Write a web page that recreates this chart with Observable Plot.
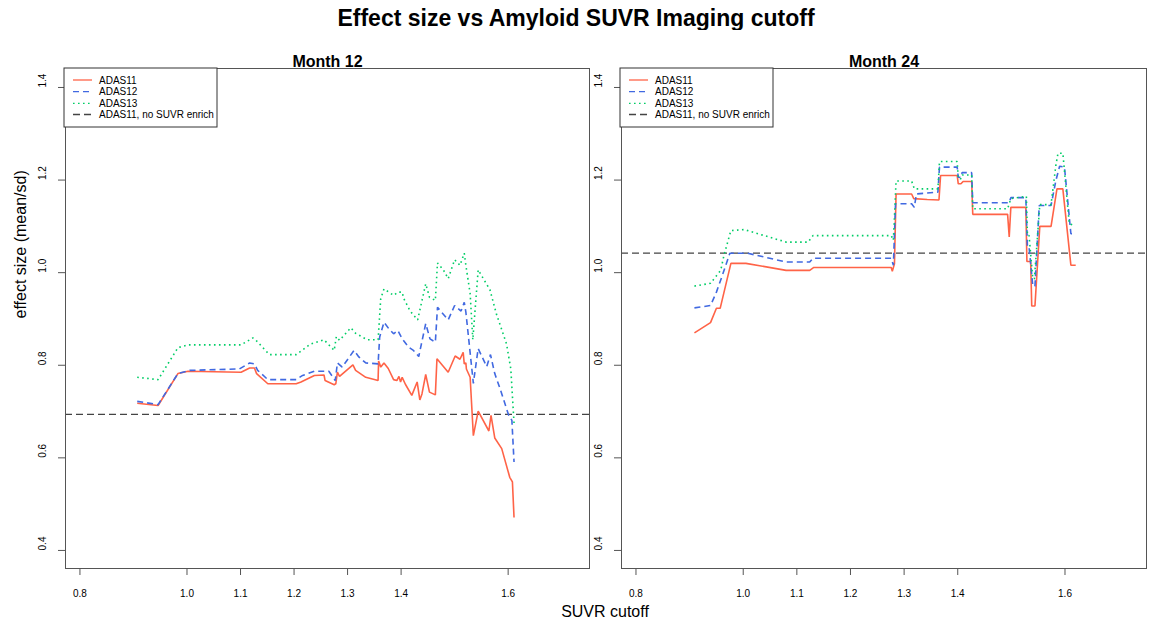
<!DOCTYPE html>
<html>
<head>
<meta charset="utf-8">
<script src="https://cdn.jsdelivr.net/npm/d3@7"></script>
<script src="https://cdn.jsdelivr.net/npm/@observablehq/plot@0.6"></script>
<style>
  html, body { margin: 0; padding: 0; background: #fff; }
  #wrap { position: relative; width: 1152px; height: 631px; font-family: "Liberation Sans", Arial, sans-serif; color: #000; }
  #title { position: absolute; left: 0; width: 1152px; top: 5px; text-align: center; font-weight: bold; font-size: 23px; }
  #xlabel { position: absolute; left: 0; width: 1210px; top: 603px; text-align: center; font-size: 16px; }
  .panel { position: absolute; top: 30px; }
</style>
</head>
<body>
<div id="wrap">
  <div id="title">Effect size vs Amyloid SUVR Imaging cutoff</div>
  <div id="left" class="panel" style="left:0px"></div>
  <div id="right" class="panel" style="left:592px"></div>
  <div id="xlabel">SUVR cutoff</div>
</div>
<script>
// ---------- data ----------
const panelTitles = ["Month 12", "Month 24"];
const seriesNames = ["ADAS11", "ADAS12", "ADAS13"];
const legendLabels = ["ADAS11", "ADAS12", "ADAS13", "ADAS11, no SUVR enrich"];
const xTicks = [0.8, 1.0, 1.1, 1.2, 1.3, 1.4, 1.6];
const yTicks = [0.4, 0.6, 0.8, 1.0, 1.2, 1.4];
const baselineEffect = [0.694, 1.042]; // ADAS11, no SUVR enrich (Month 12, Month 24)

// Month 12
const m12_adas11_x = [0.907,0.946,0.983,1.002,1.101,1.117,1.126,1.130,1.151,1.204,1.213,1.238,1.256,1.258,1.275,1.278,1.281,1.285,1.310,1.315,1.334,1.357,1.358,1.362,1.368,1.376,1.386,1.392,1.396,1.399,1.402,1.408,1.420,1.430,1.435,1.439,1.446,1.453,1.464,1.467,1.488,1.501,1.510,1.516,1.518,1.521,1.522,1.529,1.535,1.544,1.564,1.568,1.575,1.588,1.603,1.608,1.611];
const m12_adas11_y = [0.718,0.713,0.782,0.787,0.785,0.794,0.794,0.782,0.760,0.760,0.764,0.778,0.779,0.767,0.758,0.760,0.785,0.776,0.801,0.789,0.774,0.767,0.809,0.796,0.805,0.793,0.769,0.767,0.776,0.764,0.774,0.759,0.735,0.764,0.725,0.738,0.780,0.742,0.736,0.814,0.785,0.820,0.813,0.828,0.803,0.805,0.792,0.774,0.648,0.701,0.658,0.692,0.643,0.620,0.558,0.548,0.471];
const m12_adas12_x = [0.907,0.946,0.983,1.005,1.098,1.117,1.126,1.132,1.151,1.204,1.216,1.238,1.265,1.277,1.281,1.290,1.312,1.321,1.334,1.357,1.360,1.368,1.377,1.386,1.394,1.402,1.414,1.423,1.433,1.446,1.454,1.464,1.468,1.488,1.500,1.512,1.518,1.521,1.535,1.544,1.560,1.567,1.575,1.585,1.601,1.607,1.611];
const m12_adas12_y = [0.722,0.715,0.782,0.789,0.792,0.805,0.803,0.789,0.769,0.769,0.778,0.787,0.787,0.767,0.805,0.796,0.832,0.818,0.805,0.803,0.861,0.893,0.879,0.868,0.875,0.857,0.839,0.832,0.819,0.890,0.857,0.850,0.925,0.898,0.929,0.917,0.936,0.915,0.761,0.836,0.797,0.823,0.782,0.749,0.692,0.681,0.591];
const m12_adas13_x = [0.907,0.946,0.983,1.002,1.101,1.123,1.128,1.154,1.204,1.231,1.256,1.275,1.279,1.285,1.306,1.315,1.337,1.357,1.362,1.368,1.377,1.386,1.394,1.402,1.405,1.417,1.431,1.446,1.453,1.464,1.468,1.479,1.488,1.500,1.510,1.518,1.521,1.529,1.534,1.544,1.566,1.578,1.597,1.605,1.611];
const m12_adas13_y = [0.774,0.769,0.838,0.844,0.844,0.859,0.855,0.823,0.823,0.846,0.855,0.832,0.862,0.854,0.881,0.869,0.855,0.855,0.944,0.965,0.958,0.951,0.958,0.958,0.944,0.917,0.898,0.976,0.947,0.940,1.021,1.006,0.987,1.028,1.016,1.042,1.016,0.955,0.855,1.006,0.963,0.911,0.846,0.792,0.675];

// Month 24
const m24_adas11_x = [0.909,0.939,0.950,0.957,0.977,1.005,1.080,1.124,1.131,1.276,1.278,1.282,1.285,1.314,1.318,1.343,1.365,1.368,1.399,1.401,1.406,1.410,1.426,1.428,1.493,1.496,1.499,1.527,1.529,1.536,1.538,1.544,1.553,1.574,1.585,1.596,1.611,1.620];
const m24_adas11_y = [0.870,0.892,0.923,0.923,1.020,1.020,1.005,1.005,1.011,1.011,1.003,1.019,1.170,1.170,1.160,1.158,1.157,1.210,1.210,1.192,1.192,1.197,1.197,1.126,1.126,1.077,1.141,1.141,1.024,1.024,0.928,0.928,1.100,1.100,1.181,1.181,1.016,1.016];
const m24_adas12_x = [0.909,0.939,0.950,0.961,0.975,1.008,1.080,1.124,1.130,1.276,1.280,1.284,1.314,1.319,1.323,1.363,1.366,1.399,1.401,1.406,1.408,1.426,1.428,1.496,1.499,1.527,1.530,1.533,1.540,1.544,1.552,1.574,1.583,1.590,1.599,1.611,1.618];
const m24_adas12_y = [0.924,0.929,0.958,0.994,1.042,1.042,1.023,1.023,1.031,1.031,1.016,1.149,1.149,1.141,1.170,1.174,1.228,1.228,1.206,1.206,1.216,1.216,1.151,1.151,1.162,1.162,1.055,1.055,0.971,0.971,1.145,1.145,1.199,1.230,1.228,1.084,1.084];
const m24_adas13_x = [0.909,0.939,0.958,0.964,0.977,1.002,1.080,1.121,1.130,1.276,1.280,1.285,1.314,1.319,1.363,1.366,1.399,1.401,1.406,1.408,1.426,1.428,1.493,1.499,1.528,1.530,1.533,1.540,1.543,1.553,1.574,1.583,1.587,1.596,1.608,1.616];
const m24_adas13_y = [0.971,0.977,1.005,1.037,1.091,1.093,1.066,1.066,1.080,1.080,1.070,1.198,1.198,1.181,1.181,1.240,1.240,1.203,1.203,1.211,1.211,1.138,1.138,1.160,1.165,1.080,1.080,0.987,0.987,1.147,1.147,1.232,1.258,1.258,1.106,1.102];

// ---------- styles ----------
const seriesStyle = {
  ADAS11: {stroke: "#FF6347", dash: null},
  ADAS12: {stroke: "#4169E1", dash: "6 4"},
  ADAS13: {stroke: "#00CD66", dash: "1.6 3.4"}
};
const baseStyle = {stroke: "#444", dash: "7 4"};

const panels = [
  {el: "#left", title: panelTitles[0], width: 592, ml: 65, mr: 3, yLabel: true,
   series: [[m12_adas11_x, m12_adas11_y], [m12_adas12_x, m12_adas12_y], [m12_adas13_x, m12_adas13_y]], base: baselineEffect[0]},
  {el: "#right", title: panelTitles[1], width: 560, ml: 29, mr: 6, yLabel: false,
   series: [[m24_adas11_x, m24_adas11_y], [m24_adas12_x, m24_adas12_y], [m24_adas13_x, m24_adas13_y]], base: baselineEffect[1]}
];

const H = 575, MT = 38, MB = 37;

for (const p of panels) {
  const marks = [];
  marks.push(Plot.ruleY([p.base], {stroke: baseStyle.stroke, strokeWidth: 1.3, strokeDasharray: baseStyle.dash}));
  seriesNames.forEach((name, i) => {
    const [xs, ys] = p.series[i];
    const rows = xs.map((x, j) => ({x, y: ys[j], series: name}));
    const st = seriesStyle[name];
    marks.push(Plot.line(rows, {x: "x", y: "y", stroke: st.stroke, strokeWidth: 1.6,
      strokeDasharray: st.dash || undefined, strokeLinejoin: "miter", strokeLinecap: "butt"}));
  });
  marks.push(Plot.frame({stroke: "#555", strokeWidth: 1}));
  marks.push(Plot.axisX({ticks: xTicks, tickSize: 7, tickPadding: 14, tickFormat: d3.format(".1f"), stroke: "#555", fontSize: 10, label: null}));
  marks.push(Plot.axisY({ticks: yTicks, tickSize: 7, tickFormat: () => "", stroke: "#555", label: null}));
  marks.push(Plot.text(yTicks, {y: d => d, frameAnchor: "left", dx: -23, rotate: -90, text: d => d3.format(".1f")(d), fontSize: 10, fill: "#000"}));
  marks.push(Plot.text([p.title], {frameAnchor: "top", dy: -13, fontSize: 16, fontWeight: "bold", fill: "#000"}));
  if (p.yLabel) {
    marks.push(Plot.text(["effect size (mean/sd)"], {frameAnchor: "left", dx: -45, rotate: -90, fontSize: 16, fill: "#000"}));
  }
  const chart = Plot.plot({
    width: p.width, height: H,
    marginTop: MT, marginBottom: MB, marginLeft: p.ml, marginRight: p.mr,
    x: {domain: [0.773, 1.752]},
    y: {domain: [0.361, 1.441]},
    style: {fontFamily: "'Liberation Sans', Arial, sans-serif", fontSize: "10px", background: "white", overflow: "visible"},
    marks
  });
  document.querySelector(p.el).appendChild(chart);

  // legend (top-left inside frame)
  const svg = d3.select(chart);
  const g = svg.append("g").attr("transform", `translate(${p.ml - 1},${MT})`).attr("text-anchor", "start");
  g.append("rect").attr("x", 0).attr("y", 0).attr("width", 153).attr("height", 59)
    .attr("fill", "white").attr("stroke", "#333").attr("stroke-width", 1);
  const rowsY = [12, 23.7, 35.3, 46.5];
  const legendStyles = [seriesStyle.ADAS11, seriesStyle.ADAS12, seriesStyle.ADAS13, baseStyle];
  legendLabels.forEach((lab, i) => {
    const st = legendStyles[i];
    g.append("line").attr("x1", 9).attr("x2", 28).attr("y1", rowsY[i]).attr("y2", rowsY[i])
      .attr("stroke", st.stroke).attr("stroke-width", 1.3)
      .attr("stroke-dasharray", st.dash || null);
    g.append("text").attr("x", 35).attr("y", rowsY[i]).attr("dy", "0.35em")
      .attr("text-anchor", "start")
      .attr("font-size", 10).attr("fill", "#000").text(lab);
  });
}
</script>
</body>
</html>
